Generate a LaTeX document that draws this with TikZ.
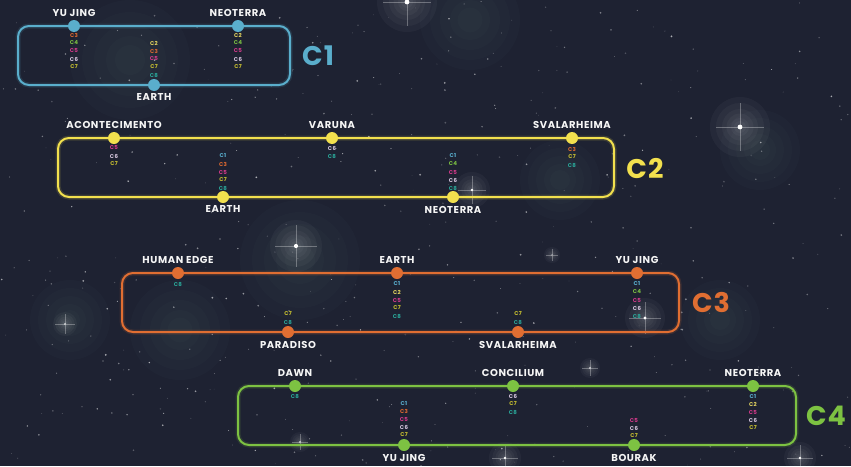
\documentclass[tikz,border=0pt]{standalone}
\usepackage{fontspec}
\setmainfont{Poppins}
\usetikzlibrary{positioning}
\definecolor{bg}{HTML}{1E2232}
\definecolor{tag1}{HTML}{5AB0D0}
\definecolor{tag2}{HTML}{E8D860}
\definecolor{tag3}{HTML}{E06A30}
\definecolor{tag4}{HTML}{7CC142}
\definecolor{tag5}{HTML}{D63A8C}
\definecolor{tag6}{HTML}{D8C8E0}
\definecolor{tag7}{HTML}{C8C030}
\definecolor{tag8}{HTML}{2AA89A}
\definecolor{lc1}{HTML}{5AAECC}
\definecolor{lc2}{HTML}{F2E04E}
\definecolor{lc3}{HTML}{E06E32}
\definecolor{lc4}{HTML}{7DC242}
\tikzset{
  station/.style={circle, fill=#1, minimum size=12pt, inner sep=0pt},
  sname/.style={font=\fontsize{10}{10}\selectfont\bfseries\addfontfeatures{LetterSpace=6}, text=white!92!gray, inner sep=0pt},
  tagtext/.style={font=\fontsize{5.5}{5.5}\selectfont\bfseries\addfontfeatures{LetterSpace=6}, inner sep=0pt},
  ringline/.style={line width=2pt, rounded corners=11pt, draw=#1},
  ringglow/.style={line width=5pt, rounded corners=11pt, draw=#1, opacity=0.15},
  bigname/.style={font=\fontsize{27}{27}\selectfont\bfseries\addfontfeatures{LetterSpace=4}, text=#1, inner sep=0pt},
}
\newcommand\tagcol[4]{%
  \foreach \n [count=\k from 0] in {#3}{\node[tagtext, text=tag\n] (#4-\n) at (#1, #2+8*\k) {C\n};}}
\newcommand\brightstar[3]{% x y size
  \foreach \r in {1,0.8,0.6,0.45,0.3,0.2}{\fill[white, opacity=0.035] (#1,#2) circle[radius=#3*\r pt];}
  \draw[white, opacity=0.3, line width=0.4pt] (#1-#3*0.8,#2) -- (#1+#3*0.8,#2) (#1,#2-#3*0.8) -- (#1,#2+#3*0.8);
  \fill[white] (#1,#2) circle[radius=#3*0.08 pt];}
\begin{document}
\begin{tikzpicture}[x=1pt,y=-1pt]
\useasboundingbox (0,0) rectangle (851,466);
\fill[bg] (0,0) rectangle (851,466);
% nebulae
\foreach \cx/\cy/\cr in {130/60/60, 560/180/40, 70/320/40, 180/330/50, 720/320/40, 470/20/50, 300/260/60, 760/150/40}{
  \foreach \f in {1,0.8,0.6,0.4,0.25}{\fill[teal!40!white, opacity=0.02] (\cx,\cy) circle[radius=\cr*\f pt];}}
% random stars
\pgfmathsetseed{7}
\foreach \i in {1,...,420}{
  \pgfmathsetmacro\sx{rnd*851}
  \pgfmathsetmacro\sy{rnd*466}
  \pgfmathsetmacro\sr{0.3+rnd*0.7}
  \pgfmathsetmacro\so{0.15+rnd*0.5}
  \fill[white, opacity=\so] (\sx,\sy) circle[radius=\sr pt];}
\brightstar{407}{2}{30}
\brightstar{740}{127}{30}
\brightstar{296}{246}{26}
\brightstar{472}{190}{18}
\brightstar{645}{318}{20}
\brightstar{505}{458}{16}
\brightstar{800}{458}{16}
\brightstar{65}{324}{12}
\brightstar{300}{442}{10}
\brightstar{552}{255}{8}
\brightstar{590}{368}{10}

% ===== C1 =====
\draw[ringglow=lc1] (18,26) rectangle (290,85);
\draw[ringline=lc1] (18,26) rectangle (290,85);
\node[station=lc1] (c1yj) at (74,26) {};
\node[station=lc1] (c1ne) at (238,26) {};
\node[station=lc1] (c1ea) at (154,85) {};
\node[sname, above=3pt of c1yj] (c1yjn) {YU JING};
\node[sname, above=3pt of c1ne] (c1nen) {NEOTERRA};
\node[sname, below=2.5pt of c1ea] (c1ean) {EARTH};
\tagcol{74}{35}{3,4,5,6,7}{c1yjt}
\tagcol{154}{43}{2,3,5,7,8}{c1eat}
\tagcol{238}{35}{2,4,5,6,7}{c1net}
\node[bigname=lc1] (c1lab) at (318,56) {C1};

% ===== C2 =====
\draw[ringglow=lc2] (58,138) rectangle (614,197);
\draw[ringline=lc2] (58,138) rectangle (614,197);
\node[station=lc2] (c2ac) at (114,138) {};
\node[station=lc2] (c2va) at (332,138) {};
\node[station=lc2] (c2sv) at (572,138) {};
\node[station=lc2] (c2ea) at (223,197) {};
\node[station=lc2] (c2ne) at (453,197) {};
\node[sname, above=3pt of c2ac] (c2acn) {ACONTECIMENTO};
\node[sname, above=3pt of c2va] (c2van) {VARUNA};
\node[sname, above=3pt of c2sv] (c2svn) {SVALARHEIMA};
\node[sname, below=2.5pt of c2ea] (c2ean) {EARTH};
\node[sname, below=2.5pt of c2ne] (c2nen) {NEOTERRA};
\tagcol{114}{148}{5,6,7}{c2act}
\tagcol{332}{148}{6,8}{c2vat}
\tagcol{572}{149}{3,7,8}{c2svt}
\tagcol{223}{156}{1,3,5,7,8}{c2eat}
\tagcol{453}{156}{1,4,5,6,8}{c2net}
\node[bigname=lc2] (c2lab) at (645,168) {C2};

% ===== C3 =====
\draw[ringglow=lc3] (122,273) rectangle (679,332);
\draw[ringline=lc3] (122,273) rectangle (679,332);
\node[station=lc3] (c3he) at (178,273) {};
\node[station=lc3] (c3ea) at (397,273) {};
\node[station=lc3] (c3yj) at (637,273) {};
\node[station=lc3] (c3pa) at (288,332) {};
\node[station=lc3] (c3sv) at (518,332) {};
\node[sname, above=3pt of c3he] (c3hen) {HUMAN EDGE};
\node[sname, above=3pt of c3ea] (c3ean) {EARTH};
\node[sname, above=3pt of c3yj] (c3yjn) {YU JING};
\node[sname, below=2.5pt of c3pa] (c3pan) {PARADISO};
\node[sname, below=2.5pt of c3sv] (c3svn) {SVALARHEIMA};
\tagcol{178}{284}{8}{c3het}
\tagcol{397}{284}{1,2,5,7,8}{c3eat}
\tagcol{637}{284}{1,4,5,6,8}{c3yjt}
\tagcol{288}{314}{7,8}{c3pat}
\tagcol{518}{314}{7,8}{c3svt}
\node[bigname=lc3] (c3lab) at (711,302) {C3};

% ===== C4 =====
\draw[ringglow=lc4] (238,386) rectangle (796,445);
\draw[ringline=lc4] (238,386) rectangle (796,445);
\node[station=lc4] (c4da) at (295,386) {};
\node[station=lc4] (c4co) at (513,386) {};
\node[station=lc4] (c4ne) at (753,386) {};
\node[station=lc4] (c4yj) at (404,445) {};
\node[station=lc4] (c4bo) at (634,445) {};
\node[sname, above=3pt of c4da] (c4dan) {DAWN};
\node[sname, above=3pt of c4co] (c4con) {CONCILIUM};
\node[sname, above=3pt of c4ne] (c4nen) {NEOTERRA};
\node[sname, below=2.5pt of c4yj] (c4yjn) {YU JING};
\node[sname, below=2.5pt of c4bo] (c4bon) {BOURAK};
\tagcol{295}{396}{8}{c4dat}
\tagcol{513}{396}{6,7,8}{c4cot}
\tagcol{753}{396}{1,2,5,6,7}{c4net}
\tagcol{404}{403}{1,3,5,6,7}{c4yjt}
\tagcol{634}{420}{5,6,7}{c4bot}
\node[bigname=lc4] (c4lab) at (826,416) {C4};
\end{tikzpicture}
\end{document}
